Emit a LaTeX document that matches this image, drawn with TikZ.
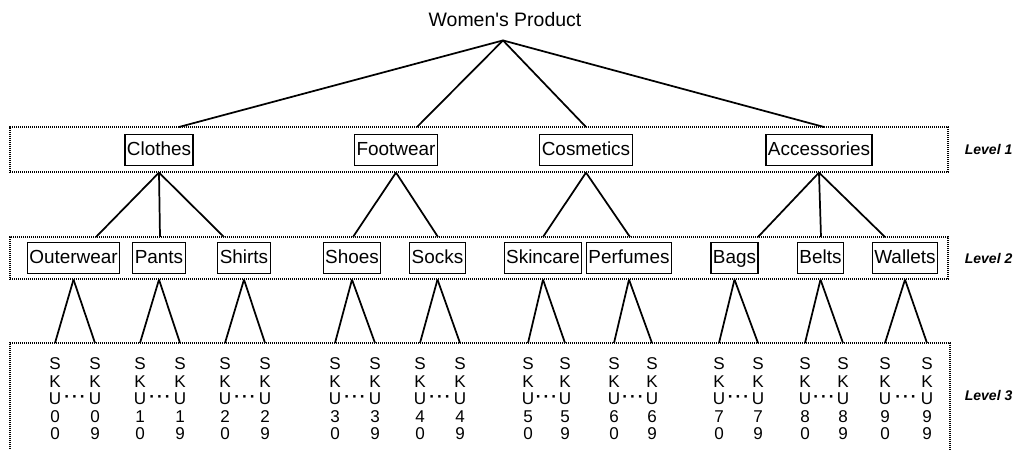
\documentclass[tikz,border=0pt]{standalone}
\usepackage{fontspec}
\setmainfont{Liberation Sans}
\usepackage{tikz}
\usetikzlibrary{calc,positioning,fit}

\begin{document}
\begin{tikzpicture}
  [
    x=0.75pt,y=-0.75pt,
    every node/.style={font=\fontsize{14.2}{16}\selectfont},
    category/.style={rectangle,draw=black,line width=0.9pt,inner xsep=1.5pt,inner ysep=0pt,text height=10.5pt,text depth=3pt,minimum height=23pt},
    dotline/.style={draw=black,line width=0.9pt,dash pattern=on 0.8pt off 0.7pt},
    level/.style={dotline,rectangle,inner sep=0pt},
    levellabel/.style={inner sep=0pt,font=\fontsize{10.5}{12}\selectfont\bfseries\itshape},
    sku/.style={inner sep=0pt,align=center,font=\fontsize{12.8}{13.1}\selectfont},
    link/.style={line width=1.3pt}
  ]
  \useasboundingbox (0,0) rectangle (1029,450);

  % level boxes
  \node[level,fit={(10,127) (948,172)}] (level one) {};
  \node[level,fit={(10,237) (948,279)}] (level two) {};
  \draw[dotline] (10,455) |- (950,343) -- (950,455);
  \coordinate (level three) at (0,343);
  \node[levellabel,right=12pt of level one] (label one) {Level 1};
  \node[levellabel,right=12pt of level two] (label two) {Level 2};
  \node[levellabel,anchor=west] (label three) at (label two.west |- 0,395) {Level 3};

  % top
  \node[inner sep=0pt,font=\fontsize{14.6}{16}\selectfont] (product) at (505,20) {Women\textquotesingle s Product};
  \coordinate (apex) at ($(product.south)+(-2,13)$);

  \node[category] (clothes) at (159,150) {Clothes};
  \node[category] (footwear) at (396,150) {Footwear};
  \node[category] (cosmetics) at (586,150) {Cosmetics};
  \node[category] (accessories) at (819,150) {Accessories};
  \foreach \x [count=\i] in {179,417,586,824}
  {
    \coordinate (top\i) at (\x,127);
    \draw[link] (apex) -- (top\i);
  }

  \node[category] (outerwear) at (73.5,258) {Outerwear};
  \node[category] (pants) at (159,258) {Pants};
  \node[category] (shirts) at (244,258) {Shirts};
  \node[category] (shoes) at (352,258) {Shoes};
  \node[category] (socks) at (437.5,258) {Socks};
  \node[category] (skincare) at (543,258) {Skincare};
  \node[category] (perfumes) at (629,258) {Perfumes};
  \node[category] (bags) at (734.5,258) {Bags};
  \node[category] (belts) at (820.5,258) {Belts};
  \node[category] (wallets) at (905,258) {Wallets};

  \foreach \p/\xs in {clothes/{96,160,224},footwear/{353,438},cosmetics/{543,630},accessories/{758,821,885}}
  {
    \foreach \x in \xs
    {
      \coordinate (\p-\x) at (\x,237);
      \draw[link] (\p.south |- level one.south) -- (\p-\x);
    }
  }

  % sku columns
  \foreach \p/\i/\a/\b in {outerwear/0/55/95,pants/1/140/180,shirts/2/225/265,shoes/3/335/375,socks/4/420/460,skincare/5/528/565,perfumes/6/614/652,bags/7/719/758,belts/8/805/843,wallets/9/885/927}
  {
    \node[sku] (sku\i0) at (\a,399) {S\\K\\U\\\i\\0};
    \node[sku] (sku\i9) at (\b,399) {S\\K\\U\\\i\\9};
    \node[sku] (dots\i) at ($(sku\i0)!0.5!(sku\i9)$) {\bfseries ·\kern1.6pt·\kern1.6pt·};
    \draw[link] (\p.south |- level two.south) -- (sku\i0 |- level three);
    \draw[link] (\p.south |- level two.south) -- (sku\i9 |- level three);
  }
\end{tikzpicture}
\end{document}
